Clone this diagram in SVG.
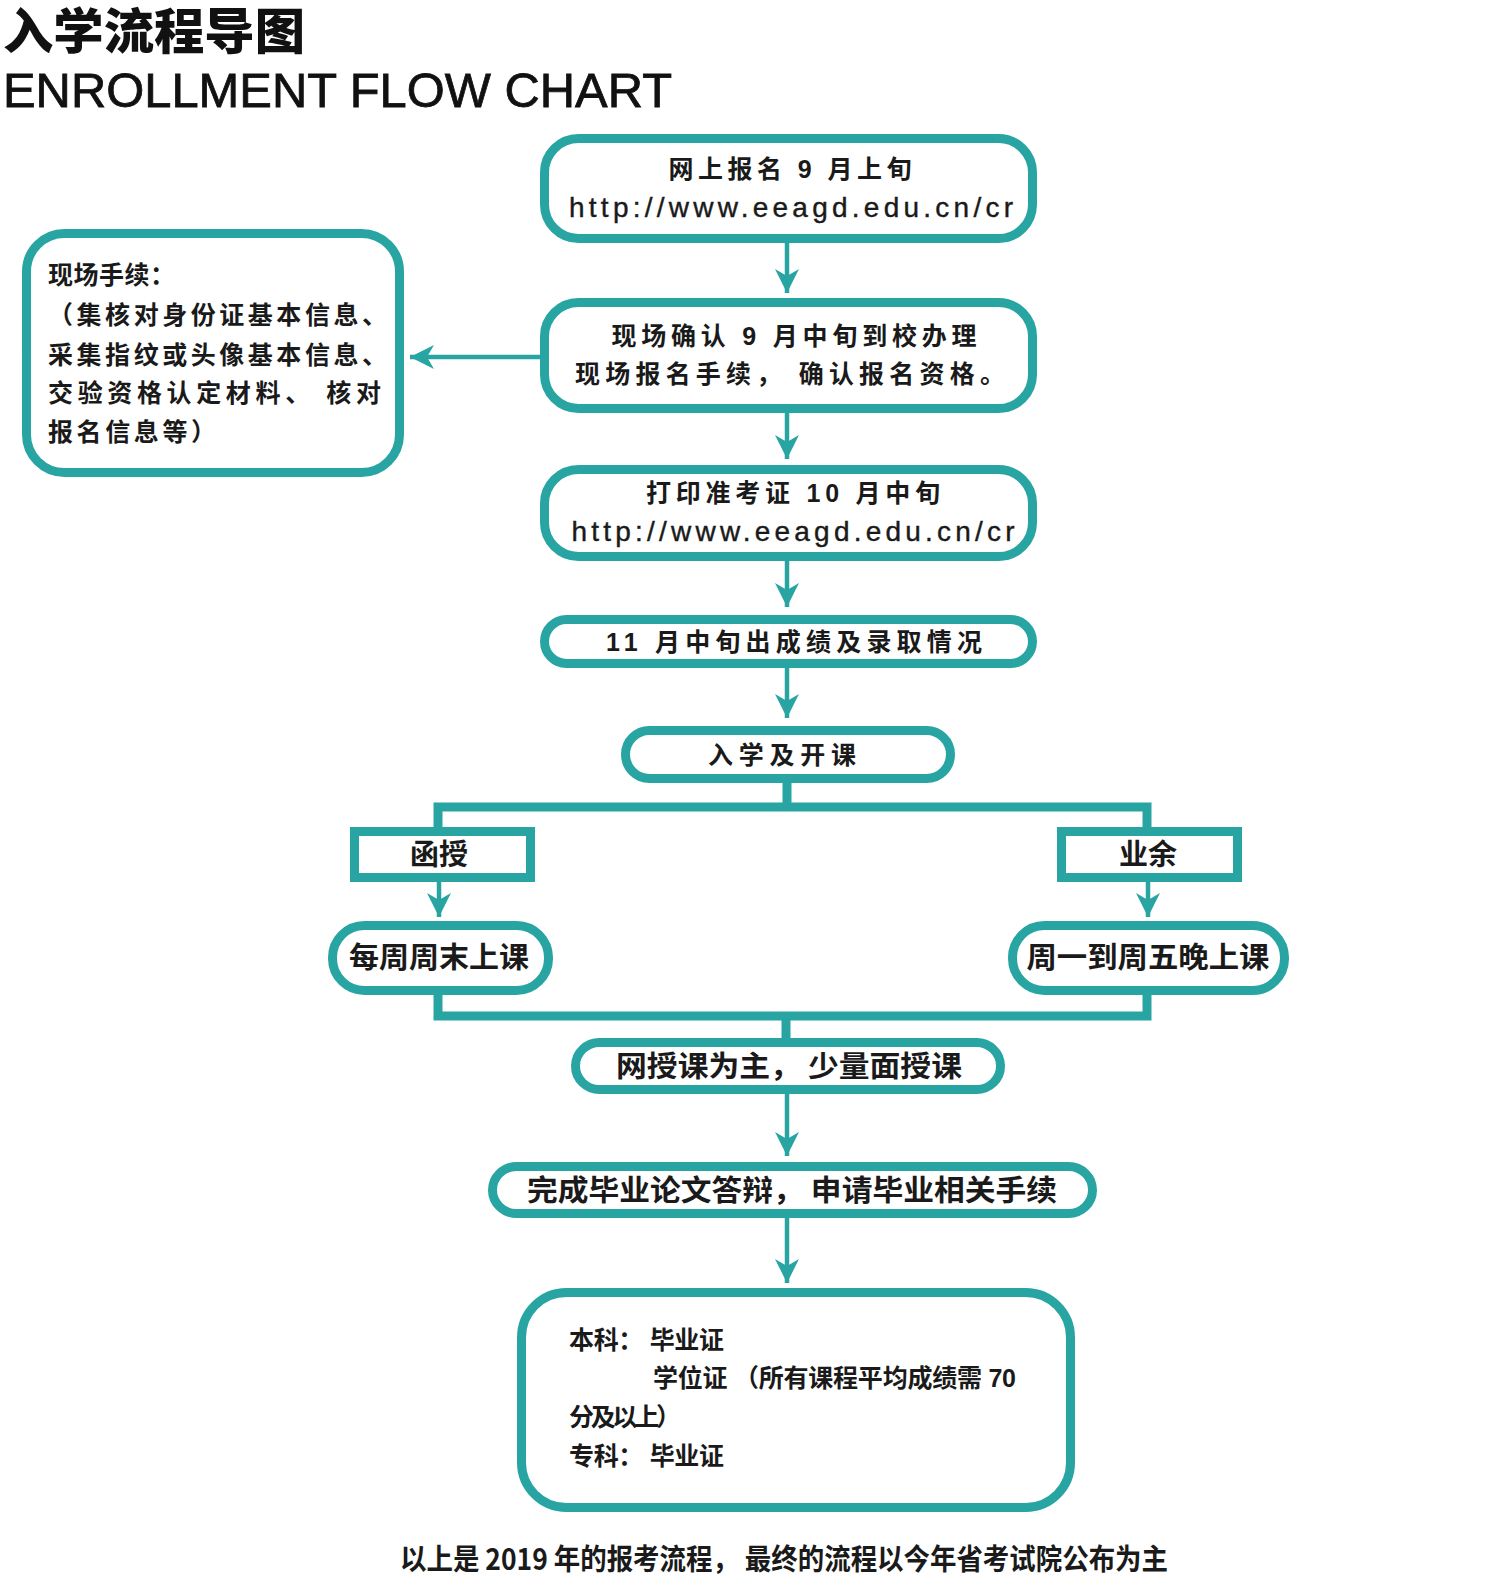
<svg xmlns="http://www.w3.org/2000/svg" width="1508" height="1575" viewBox="0 0 1508 1575">
<style>
.box{fill:#fff;stroke:#28a5a3;stroke-width:9}
.ln{fill:none;stroke:#28a5a3;stroke-width:4.5}
.br{fill:none;stroke:#28a5a3;stroke-width:9}
.t{font-family:"Liberation Sans","Noto Sans CJK SC",sans-serif;font-weight:700;fill:#1a1a1a;font-size:25px}
.c{text-anchor:middle}
.u{font-family:"Liberation Sans",sans-serif;font-weight:400;font-size:28px;fill:#1a1a1a;text-anchor:middle;stroke:#1a1a1a;stroke-width:0.4}
.n{font-family:"Noto Sans CJK SC",sans-serif;font-weight:700;fill:#1a1a1a;font-size:29px;text-anchor:middle}
</style>
<defs>
<marker id="ah" markerUnits="userSpaceOnUse" markerWidth="30" markerHeight="30" viewBox="-2 -14 30 28" refX="24" refY="0" orient="auto">
<path d="M0,-12 L24,0 L0,12 L7,0 Z" fill="#28a5a3"/>
</marker>
</defs>
<rect width="1508" height="1575" fill="#fff"/>
<g id="title">
<text x="3" y="49" font-family="Noto Sans CJK SC,sans-serif" font-weight="900" font-size="49" textLength="302" lengthAdjust="spacingAndGlyphs" fill="#111">入学流程导图</text>
<text x="3" y="107" font-family="Liberation Sans,sans-serif" font-size="49" textLength="669" lengthAdjust="spacingAndGlyphs" fill="#111" stroke="#111" stroke-width="0.8">ENROLLMENT FLOW CHART</text>
</g>
<g id="connectors">
<line class="ln" x1="787" y1="243" x2="787" y2="293" marker-end="url(#ah)"/>
<line class="ln" x1="540" y1="357" x2="410" y2="357" marker-end="url(#ah)"/>
<line class="ln" x1="787" y1="413" x2="787" y2="459" marker-end="url(#ah)"/>
<line class="ln" x1="787" y1="561" x2="787" y2="607" marker-end="url(#ah)"/>
<line class="ln" x1="787" y1="668" x2="787" y2="718" marker-end="url(#ah)"/>
<path class="br" d="M787,783 V807 M438,832 V807 H1147 V832"/>
<line class="ln" x1="439" y1="882" x2="439" y2="917" marker-end="url(#ah)"/>
<line class="ln" x1="1148" y1="882" x2="1148" y2="917" marker-end="url(#ah)"/>
<path class="br" d="M438,990 V1016 H1147 V990 M786,1016 V1040"/>
<line class="ln" x1="787" y1="1094" x2="787" y2="1156" marker-end="url(#ah)"/>
<line class="ln" x1="787" y1="1218" x2="787" y2="1283" marker-end="url(#ah)"/>
</g>
<g id="n1">
<rect class="box" x="544.5" y="138.5" width="488" height="100" rx="34"/>
<text class="t c" x="790" y="178" textLength="243" lengthAdjust="spacing">网上报名 9 月上旬</text>
<text class="u" x="791" y="217" textLength="444" lengthAdjust="spacing">http://www.eeagd.edu.cn/cr</text>
</g>
<g id="n2">
<rect class="box" x="544.5" y="302.5" width="488" height="106" rx="34"/>
<text class="t c" x="794" y="345" textLength="365" lengthAdjust="spacing">现场确认 9 月中旬到校办理</text>
<text class="t c" x="790" y="383" textLength="430" lengthAdjust="spacing">现场报名手续， 确认报名资格。</text>
</g>
<g id="n_left">
<rect class="box" x="26.5" y="233.5" width="373" height="239" rx="38"/>
<text class="t" x="48" y="284" textLength="127" lengthAdjust="spacing">现场手续：</text>
<text class="t" x="48" y="324" textLength="339" lengthAdjust="spacing">（集核对身份证基本信息、</text>
<text class="t" x="48" y="364" textLength="339" lengthAdjust="spacing">采集指纹或头像基本信息、</text>
<text class="t" x="48" y="402" textLength="333" lengthAdjust="spacing">交验资格认定材料、 核对</text>
<text class="t" x="48" y="441" textLength="168" lengthAdjust="spacing">报名信息等）</text>
</g>
<g id="n3">
<rect class="box" x="544.5" y="469.5" width="488" height="87" rx="34"/>
<text class="t c" x="793" y="502" textLength="294" lengthAdjust="spacing">打印准考证 10 月中旬</text>
<text class="u" x="793" y="541" textLength="443" lengthAdjust="spacing">http://www.eeagd.edu.cn/cr</text>
</g>
<g id="n4">
<rect class="box" x="544.5" y="619.5" width="488" height="44" rx="22"/>
<text class="t c" x="794" y="651" textLength="376" lengthAdjust="spacing">11 月中旬出成绩及录取情况</text>
</g>
<g id="n5">
<rect class="box" x="625.5" y="730.5" width="325" height="48" rx="24"/>
<text class="t c" x="782" y="764" textLength="148" lengthAdjust="spacing">入学及开课</text>
</g>
<g id="n_hanshou">
<rect class="box" x="354.5" y="831.5" width="176" height="46"/>
<text class="n" x="439" y="865" textLength="58" lengthAdjust="spacingAndGlyphs">函授</text>
</g>
<g id="n_yeyu">
<rect class="box" x="1061.5" y="831.5" width="176" height="46"/>
<text class="n" x="1148" y="865" textLength="58" lengthAdjust="spacingAndGlyphs">业余</text>
</g>
<g id="n_weekend">
<rect class="box" x="332.5" y="925.5" width="216" height="65" rx="32"/>
<text class="n" x="439" y="968" textLength="180" lengthAdjust="spacingAndGlyphs">每周周末上课</text>
</g>
<g id="n_weekday">
<rect class="box" x="1012.5" y="925.5" width="272" height="65" rx="32"/>
<text class="n" x="1148" y="968" textLength="243" lengthAdjust="spacingAndGlyphs">周一到周五晚上课</text>
</g>
<g id="n6">
<rect class="box" x="575.5" y="1042.5" width="425" height="47" rx="24"/>
<text class="n" x="789" y="1077" font-size="28" textLength="346" lengthAdjust="spacingAndGlyphs">网授课为主， 少量面授课</text>
</g>
<g id="n7">
<rect class="box" x="492.5" y="1166.5" width="600" height="47" rx="24"/>
<text class="n" x="792" y="1201" font-size="28" textLength="530" lengthAdjust="spacingAndGlyphs">完成毕业论文答辩， 申请毕业相关手续</text>
</g>
<g id="n8">
<rect class="box" x="521.5" y="1292.5" width="549" height="215" rx="45"/>
<text class="t" x="569" y="1349" font-size="22" textLength="155" lengthAdjust="spacing">本科： 毕业证</text>
<text class="t" x="653" y="1387" font-size="22" textLength="363" lengthAdjust="spacing">学位证 （所有课程平均成绩需 70</text>
<text class="t" x="569" y="1426" font-size="22" textLength="112" lengthAdjust="spacing">分及以上）</text>
<text class="t" x="569" y="1465" font-size="22" textLength="155" lengthAdjust="spacing">专科： 毕业证</text>
</g>
<g id="footer">
<text class="n" x="784" y="1570" font-size="27" font-weight="500" textLength="768" lengthAdjust="spacingAndGlyphs">以上是 2019 年的报考流程， 最终的流程以今年省考试院公布为主</text>
</g>
</svg>
